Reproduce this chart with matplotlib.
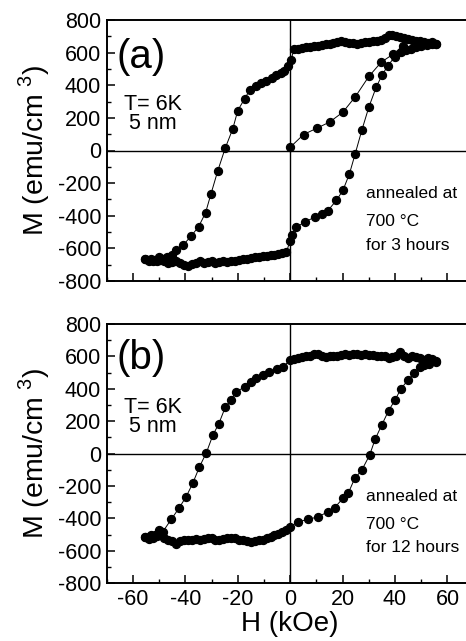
import matplotlib
matplotlib.use("Agg")
import matplotlib.pyplot as plt
from matplotlib.ticker import MultipleLocator

plt.rcParams['font.family'] = ['Liberation Sans', 'DejaVu Sans']
plt.rcParams['mathtext.fontset'] = 'custom'
plt.rcParams['mathtext.rm'] = 'Liberation Sans'
plt.rcParams['axes.unicode_minus'] = False

# ---------------- Panel (a): 3 hours ----------------
a_desc_H = [55.5, 54, 52.5, 51, 49.5, 48, 46.5, 45, 43.5, 42, 40.5, 39, 37.5, 36, 34.5, 33,
            31.5, 30, 28.5, 27, 25.5, 24, 22.5, 21, 19.5, 18, 16.5, 15, 13.5, 12, 10.5, 9,
            7.5, 6, 4.5, 3, 1.5, 0.2, -1, -2.2, -3.5, -5.3, -7, -9.2, -11, -13, -15.5,
            -17.4, -20, -21.9, -24.8, -27.6, -30.2, -32.3, -34.9, -37.8, -41, -43.5, -45,
            -47, -48.5, -50, -51.5, -53, -55.5]
a_desc_M = [655, 665, 660, 665, 670, 672, 680, 685, 690, 695, 700, 710, 705, 690, 680, 670,
            672, 668, 665, 660, 655, 662, 660, 668, 670, 665, 660, 655, 650, 648, 640, 640,
            635, 632, 628, 625, 620, 552, 520, 490, 475, 460, 445, 429, 412, 398, 368,
            317, 245, 133, 14, -123, -265, -382, -466, -525, -582, -613, -640,
            -655, -665, -655, -670, -665, -665]

a_asc_H = [-55.5, -54, -52.5, -51, -49.5, -48, -46.5, -45, -43.5, -42, -40.5, -39, -37.5,
           -36, -34.5, -33, -31.5, -30, -28.5, -27, -25.5, -24, -22.5, -21, -19.5, -18,
           -16.5, -15, -13.5, -12, -10.5, -9, -7.5, -6, -4.5, -3, -1.5, 0, 0.6, 2.3, 5.5,
           9.3, 12, 14.4, 17.6, 20.1, 22.6, 24.8, 27.3, 30, 32.8, 35.1, 37.3, 39.8, 42.4,
           44, 46, 48, 50, 52, 54, 55.5]
a_asc_M = [-665, -680, -675, -680, -672, -680, -690, -685, -680, -690, -700, -705, -695,
           -690, -680, -690, -685, -680, -690, -685, -680, -683, -677, -675, -670, -668,
           -665, -660, -655, -652, -648, -645, -642, -638, -635, -630, -625, -552, -521,
           -470, -439, -409, -390, -368, -306, -245, -143, -20, 123, 266, 388, 464, 521,
           572, 603, 615, 625, 635, 640, 648, 650, 655]

a_virgin_H = [0, 5.1, 10.2, 15, 20.1, 24.9, 30, 34.7, 39.2, 43]
a_virgin_M = [20, 98, 137, 174, 235, 331, 454, 541, 590, 640]

# ---------------- Panel (b): 12 hours ----------------
b_desc_H = [55.5, 54, 52.5, 51, 49.5, 48, 46.5, 45, 43.5, 42, 40.5, 39, 37.5, 36, 34.5, 33,
            31.5, 30, 28.5, 27, 25.5, 24, 22.5, 21, 19.5, 18, 16.5, 15, 13.5, 12, 10.5, 9,
            7.5, 6, 4.5, 3, 1.5, 0, -2.8, -5, -7.9, -10.5, -13, -15, -17.4, -20.6, -22.5,
            -24.8, -27.2, -29.5, -32, -34.6, -37.2, -39.7, -42.5, -45.4, -48.6, -50, -51.5,
            -53, -55.5]
b_desc_M = [570, 585, 590, 580, 590, 595, 600, 590, 600, 625, 605, 595, 590, 600, 605, 600,
            608, 610, 612, 608, 612, 615, 610, 612, 610, 600, 605, 600, 598, 602, 615, 612,
            605, 600, 596, 590, 582, 577, 536, 520, 505, 485, 464, 440, 412, 381, 334,
            285, 186, 114, 5, -81, -184, -266, -338, -406, -482, -470, -500,
            -505, -513]

b_asc_H = [-55.5, -54, -52.5, -51, -49.5, -48, -46.5, -45, -43.5, -42, -40.5, -39, -37.5,
           -36, -34.5, -33, -31.5, -30, -28.5, -27, -25.5, -24, -22.5, -21, -19.5, -18,
           -16.5, -15, -13.5, -12, -10.5, -9, -7.5, -6, -4.5, -3, -1.5, 0, 2.9, 6.7, 10.6,
           14.4, 16.9, 20.1, 22.2, 24.6, 27.3, 30.3, 32.4, 34.9, 37.5, 40.1, 42.3, 44.9,
           47.2, 49.4, 51, 53, 55.5]
b_asc_M = [-513, -525, -520, -510, -505, -520, -530, -540, -555, -540, -535, -532, -535,
           -528, -530, -525, -520, -522, -530, -535, -525, -520, -518, -522, -530, -535,
           -540, -545, -542, -535, -530, -520, -515, -505, -495, -485, -470, -452, -421,
           -406, -390, -359, -334, -276, -242, -153, -102, -9, 89, 176, 264, 334, 402, 453,
           495, 536, 548, 555, 566]

y_ticks = [-800, -600, -400, -200, 0, 200, 400, 600, 800]
x_ticks = [-60, -40, -20, 0, 20, 40, 60]

fig = plt.figure(figsize=(4.66, 6.41), dpi=100)
W, H = 466.0, 641.0
left = 106.7 / W
width = 367.0 / W
ax_a = fig.add_axes([left, (H - 281) / H, width, 261 / H])
ax_b = fig.add_axes([left, (H - 583.3) / H, width, 259.3 / H])

mk = dict(marker='o', ms=5.7, color='black', mfc='black', mec='black', lw=0.7)

def style(ax, show_x):
    ax.set_xlim(-70, 70)
    ax.set_ylim(-800, 800)
    ax.axhline(0, color='black', lw=1.0, zorder=1)
    ax.axvline(0, color='black', lw=1.0, zorder=1)
    ax.set_xticks(x_ticks)
    ax.set_yticks(y_ticks)
    ax.xaxis.set_minor_locator(MultipleLocator(10))
    ax.yaxis.set_minor_locator(MultipleLocator(100))
    ax.tick_params(which='major', direction='in', length=6, width=1.1, labelsize=15.5,
                   top=False, right=False, pad=4)
    ax.tick_params(which='minor', direction='in', length=3, width=1.0, top=False, right=False)
    if not show_x:
        ax.tick_params(axis='x', labelbottom=False)
    for s in ax.spines.values():
        s.set_linewidth(1.4)
    ax.set_ylabel(r'M (emu/cm$^{\ 3}$)', fontsize=20.5)

for ax, dH, dM, aH, aM in [(ax_a, a_desc_H, a_desc_M, a_asc_H, a_asc_M),
                           (ax_b, b_desc_H, b_desc_M, b_asc_H, b_asc_M)]:
    ax.plot(dH, dM, **mk)
    ax.plot(aH, aM, **mk)

ax_a.plot(a_virgin_H, a_virgin_M, **mk)

style(ax_a, False)
style(ax_b, True)
ax_b.set_xlabel('H (kOe)', fontsize=20)
ax_b.xaxis.set_label_coords(0.5, -0.108)

for ax, lab, yl, hrs in [(ax_a, '(a)', 572, 'for 3 hours'), (ax_b, '(b)', 592, 'for 12 hours')]:
    ax.text(-57, yl, lab, fontsize=29, ha='center', va='center')
    ax.text(-52.5, 284, 'T= 6K', fontsize=15.5, ha='center', va='center')
    ax.text(-52.5, 165, '5 nm', fontsize=15.5, ha='center', va='center')
    ax.text(29, -262, 'annealed at', fontsize=12.5, ha='left', va='center')
    ax.text(29, -437, '700 °C', fontsize=12.5, ha='left', va='center')
    ax.text(29, -580, hrs, fontsize=12.5, ha='left', va='center')

ax_a.yaxis.set_label_coords(-0.148, 0.5)
ax_b.yaxis.set_label_coords(-0.148, 0.5)

fig.savefig('out.png', dpi=100)
